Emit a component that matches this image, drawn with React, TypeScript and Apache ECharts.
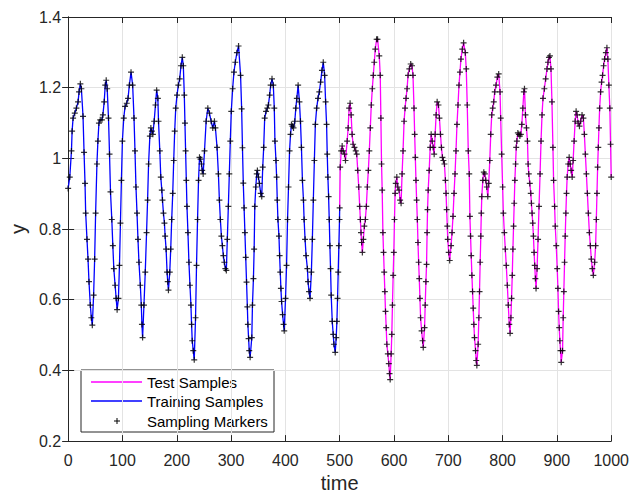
import React, { useEffect, useRef } from "react";
import * as echarts from "echarts";

const trainT = [
  0, 3.0, 6.1, 7.3, 9.1, 12.2, 15.2, 18.3, 20.1, 22.5, 24.4, 27.4, 29.3, 31.1, 32.3, 34.7, 36.6, 38.4, 40.8, 42.7,
  44.5, 46.9, 48.8, 50.6, 53.0, 54.8, 56.7, 59.1, 62.2, 64.0, 66.4, 68.3, 70.1, 71.9, 74.3, 76.2, 78.0, 80.4, 82.3, 84.1,
  86.5, 88.4, 90.2, 92.6, 94.5, 96.3, 98.1, 99.9, 102.4, 104.8, 107.9, 110.3, 112.7, 115.8, 118.8, 121.3, 123.1, 124.9, 126.8, 128.6,
  130.4, 132.9, 134.7, 135.9, 137.1, 139.6, 142.0, 144.4, 146.3, 148.1, 150.5, 152.3, 154.2, 156.0, 158.4, 160.8, 163.0, 165.2, 166.4, 168.8,
  170.6, 172.5, 173.7, 175.5, 177.3, 178.6, 180.4, 182.2, 183.4, 184.7, 187.1, 188.9, 190.7, 192.6, 194.4, 196.2, 198.1, 200.5, 202.9, 205.4,
  207.8, 210.2, 212.1, 213.9, 215.1, 216.3, 217.6, 218.8, 220.6, 222.4, 224.3, 226.1, 227.3, 228.5, 230.4, 232.2, 234.6, 236.4, 238.3, 240.1,
  241.9, 243.8, 245.6, 246.8, 248.6, 251.1, 254.1, 257.2, 260.2, 263.3, 266.3, 269.4, 271.2, 274.2, 276.7, 278.5, 280.3, 282.2, 284.0, 285.8,
  287.6, 289.5, 291.3, 293.1, 295.0, 296.8, 298.6, 300.4, 302.9, 305.3, 307.8, 310.8, 313.8, 317.5, 319.5, 321.0, 322.5, 324.0, 325.5, 327.0,
  328.5, 330.0, 331.0, 332.3, 333.5, 335.1, 338.2, 339.4, 341.2, 342.5, 343.7, 345.5, 347.3, 348.5, 350.4, 352.2, 354.6, 356.5, 358.3, 360.1,
  361.9, 364.4, 366.8, 368.7, 371.1, 372.9, 375.4, 377.8, 379.6, 380.8, 382.7, 383.9, 385.1, 386.3, 388.2, 389.4, 390.6, 391.8, 393.0, 394.9,
  396.7, 397.9, 400.3, 402.2, 404.0, 405.8, 407.7, 409.5, 411.3, 413.1, 415.0, 417.4, 419.2, 421.1, 423.5, 425.9, 427.8, 429.6, 431.4, 433.3,
  434.5, 436.3, 438.1, 440.6, 441.8, 443.6, 445.4, 447.9, 449.7, 451.5, 453.4, 455.2, 457.6, 460.1, 462.5, 464.9, 467.4, 469.8, 472.3, 474.1,
  475.9, 477.1, 478.3, 479.6, 480.8, 482.0, 483.2, 484.4, 486.3, 488.1, 489.4, 491.8, 493.6, 494.9, 496.1, 497.3, 498.5, 499.7, 500,
];
const trainY = [
  0.915, 0.947, 1.021, 1.077, 1.114, 1.128, 1.142, 1.160, 1.188, 1.211, 1.197, 1.119, 1.017, 0.929, 0.845, 0.771, 0.715, 0.651, 0.585, 0.549,
  0.528, 0.613, 0.715, 0.845, 0.984, 1.049, 1.100, 1.109, 1.109, 1.123, 1.160, 1.207, 1.221, 1.197, 1.114, 1.012, 0.905, 0.827, 0.753, 0.688,
  0.641, 0.604, 0.572, 0.604, 0.697, 0.817, 0.938, 1.049, 1.114, 1.147, 1.156, 1.170, 1.207, 1.244, 1.207, 1.114, 1.021, 0.919, 0.845, 0.771,
  0.706, 0.641, 0.585, 0.530, 0.493, 0.585, 0.678, 0.790, 0.882, 0.984, 1.063, 1.086, 1.077, 1.068, 1.105, 1.151, 1.193, 1.170, 1.105, 1.021,
  0.947, 0.910, 0.882, 0.845, 0.817, 0.780, 0.743, 0.678, 0.651, 0.627, 0.678, 0.743, 0.827, 0.901, 0.994, 1.077, 1.142, 1.179, 1.207, 1.225,
  1.262, 1.286, 1.262, 1.179, 1.100, 1.021, 0.938, 0.864, 0.790, 0.706, 0.641, 0.585, 0.530, 0.484, 0.456, 0.430, 0.549, 0.697, 0.827, 0.938,
  1.003, 0.998, 0.984, 0.966, 0.956, 1.021, 1.105, 1.142, 1.128, 1.105, 1.086, 1.105, 1.086, 1.031, 0.956, 0.882, 0.827, 0.780, 0.753, 0.725,
  0.706, 0.688, 0.683, 0.771, 0.864, 0.956, 1.049, 1.133, 1.197, 1.244, 1.272, 1.299, 1.318, 1.235, 1.140, 1.030, 0.930, 0.860, 0.790, 0.720,
  0.650, 0.580, 0.530, 0.490, 0.456, 0.437, 0.493, 0.585, 0.660, 0.743, 0.864, 0.919, 0.956, 0.966, 0.947, 0.929, 0.901, 0.892, 0.975, 1.031,
  1.114, 1.133, 1.142, 1.151, 1.179, 1.207, 1.225, 1.207, 1.142, 1.049, 0.994, 0.947, 0.882, 0.827, 0.780, 0.725, 0.678, 0.632, 0.595, 0.558,
  0.530, 0.512, 0.604, 0.697, 0.827, 0.919, 1.021, 1.068, 1.096, 1.091, 1.086, 1.105, 1.142, 1.170, 1.207, 1.160, 1.105, 1.031, 0.938, 0.882,
  0.827, 0.771, 0.725, 0.688, 0.651, 0.623, 0.604, 0.678, 0.771, 0.882, 0.994, 1.096, 1.142, 1.170, 1.188, 1.216, 1.249, 1.272, 1.235, 1.160,
  1.096, 1.012, 0.947, 0.892, 0.827, 0.753, 0.688, 0.613, 0.539, 0.502, 0.474, 0.451, 0.493, 0.539, 0.604, 0.678, 0.753, 0.827, 0.860,
];

const testT = [
  500, 501.0, 502.8, 504.6, 506.4, 508.9, 510.7, 513.8, 515.6, 517.4, 519.2, 521.1, 522.9, 524.7, 527.2, 529.6, 531.4, 533.3, 535.1, 536.9,
  538.1, 539.3, 540.4, 541.8, 543.6, 545.4, 547.3, 549.1, 550.9, 552.8, 554.6, 556.4, 558.2, 560.1, 561.9, 563.7, 565.6, 568.0, 569.8, 572.9,
  574.7, 575.9, 577.1, 578.3, 579.6, 580.8, 582.0, 583.2, 584.4, 585.7, 586.9, 588.7, 590.5, 591.8, 593.0, 594.8, 596.0, 597.2, 598.5, 599.7,
  600.9, 602.1, 603.3, 605.2, 607.0, 609.4, 611.3, 613.1, 614.9, 616.7, 618.6, 620.4, 622.2, 624.1, 625.9, 628.3, 630.8, 633.2, 635.0, 636.9,
  638.1, 639.3, 640.5, 641.7, 643.0, 644.2, 645.4, 646.6, 647.8, 649.0, 650.9, 652.7, 653.9, 656.3, 657.5, 658.8, 660.0, 661.0, 661.8, 663.0,
  664.8, 666.7, 668.5, 670.3, 672.2, 674.0, 675.8, 677.6, 679.5, 681.9, 683.7, 685.6, 687.4, 689.2, 691.0, 692.9, 694.7, 695.9, 697.0, 698.2,
  699.0, 700.8, 702.6, 705.1, 706.9, 708.7, 710.6, 712.4, 714.2, 716.0, 717.9, 719.7, 721.5, 723.3, 725.8, 728.2, 731.3, 733.1, 734.9, 736.8,
  738.6, 739.8, 741.0, 742.2, 743.5, 744.7, 745.9, 747.1, 748.3, 750.2, 751.4, 752.6, 755.0, 756.3, 757.5, 758.7, 759.9, 760.8, 761.7, 763.6,
  765.4, 767.2, 769.1, 770.9, 772.7, 774.5, 776.4, 778.2, 780.0, 781.8, 783.7, 785.5, 787.9, 790.4, 792.8, 795.3, 796.5, 798.3, 800.1, 801.4,
  803.2, 805.0, 806.8, 808.7, 810.5, 812.3, 813.8, 815.3, 816.5, 817.8, 819.0, 820.2, 821.4, 822.6, 823.9, 825.1, 826.3, 828.1, 830.0, 831.8,
  833.6, 835.4, 837.3, 839.1, 840.3, 842.1, 844.0, 845.8, 847.0, 848.2, 850.1, 851.9, 853.1, 854.3, 855.5, 856.8, 858.0, 859.2, 860.4, 861.6,
  863.5, 865.3, 867.1, 869.0, 870.8, 872.6, 874.4, 876.9, 879.3, 881.8, 883.6, 885.4, 887.2, 889.1, 890.9, 892.7, 893.9, 895.8, 897.0, 898.8,
  900.6, 901.9, 903.1, 904.3, 905.5, 906.7, 908.0, 910.4, 911.6, 912.8, 914.1, 915.3, 916.5, 917.7, 918.9, 920.8, 922.6, 924.4, 926.2, 928.1,
  929.9, 931.7, 933.6, 935.4, 937.2, 939.0, 941.5, 943.9, 946.3, 948.8, 950.6, 952.4, 954.3, 956.1, 957.9, 959.8, 961.6, 963.4, 965.2, 967.1,
  969.5, 971.3, 972.6, 973.8, 975.0, 976.2, 977.4, 978.7, 980.5, 982.3, 984.1, 986.0, 987.8, 990.2, 992.1, 993.9, 995.7, 997.5, 998.8, 1000,
];
const testY = [
  0.860, 0.975, 1.021, 1.035, 1.021, 1.012, 0.994, 1.049, 1.086, 1.142, 1.156, 1.123, 1.068, 1.040, 1.031, 1.021, 1.012, 0.966, 0.919, 0.864,
  0.827, 0.790, 0.762, 0.734, 0.771, 0.808, 0.827, 0.864, 0.919, 0.966, 1.021, 1.086, 1.151, 1.197, 1.235, 1.272, 1.309, 1.337, 1.337, 1.290,
  1.235, 1.114, 0.984, 0.910, 0.790, 0.734, 0.678, 0.623, 0.567, 0.521, 0.474, 0.447, 0.419, 0.391, 0.374, 0.447, 0.502, 0.585, 0.669, 0.734,
  0.827, 0.901, 0.929, 0.947, 0.919, 0.910, 0.882, 0.873, 0.956, 1.021, 1.105, 1.142, 1.170, 1.197, 1.235, 1.253, 1.267, 1.262, 1.235, 1.142,
  1.068, 1.003, 0.938, 0.882, 0.827, 0.762, 0.706, 0.660, 0.604, 0.549, 0.512, 0.484, 0.465, 0.521, 0.585, 0.651, 0.700, 0.790, 0.855, 0.910,
  0.966, 1.031, 1.068, 1.049, 1.031, 1.012, 1.068, 1.123, 1.160, 1.151, 1.114, 1.068, 1.031, 1.003, 0.994, 0.984, 0.938, 0.901, 0.855, 0.808,
  0.771, 0.734, 0.711, 0.753, 0.790, 0.836, 0.901, 0.956, 1.021, 1.096, 1.151, 1.207, 1.244, 1.281, 1.309, 1.327, 1.299, 1.253, 1.151, 1.021,
  0.956, 0.836, 0.780, 0.725, 0.669, 0.623, 0.576, 0.530, 0.493, 0.456, 0.428, 0.414, 0.474, 0.549, 0.623, 0.706, 0.780, 0.845, 0.892, 0.938,
  0.961, 0.956, 0.938, 0.919, 0.892, 0.929, 0.994, 1.068, 1.123, 1.142, 1.160, 1.188, 1.207, 1.230, 1.239, 1.188, 1.114, 1.012, 0.919, 0.845,
  0.790, 0.743, 0.697, 0.641, 0.585, 0.530, 0.505, 0.549, 0.604, 0.669, 0.743, 0.808, 0.873, 0.938, 0.984, 1.031, 1.049, 1.072, 1.068, 1.063,
  1.068, 1.096, 1.142, 1.188, 1.197, 1.123, 1.086, 1.049, 0.984, 0.956, 0.929, 0.901, 0.873, 0.845, 0.817, 0.780, 0.734, 0.697, 0.660, 0.632,
  0.688, 0.771, 0.864, 0.956, 1.049, 1.123, 1.170, 1.197, 1.225, 1.253, 1.272, 1.286, 1.290, 1.253, 1.160, 1.031, 0.938, 0.864, 0.808, 0.753,
  0.688, 0.632, 0.567, 0.521, 0.484, 0.456, 0.423, 0.456, 0.549, 0.623, 0.706, 0.780, 0.845, 0.901, 0.947, 0.984, 1.003, 0.984, 0.966, 0.947,
  0.994, 1.049, 1.105, 1.133, 1.123, 1.100, 1.091, 1.105, 1.123, 1.114, 1.068, 1.012, 0.956, 0.901, 0.845, 0.790, 0.753, 0.715, 0.688, 0.669,
  0.706, 0.753, 0.827, 0.901, 0.975, 1.031, 1.086, 1.142, 1.188, 1.216, 1.235, 1.262, 1.281, 1.299, 1.313, 1.281, 1.207, 1.142, 1.040, 0.947,
];

const legendLabels = ["Test Samples", "Training Samples", "Sampling Markers"];
const xLabel = "time";
const yLabel = "y";

const AX = "#262626";
const FONT = '"Liberation Sans", Arial, Helvetica, sans-serif';

export default function App() {
  const ref = useRef<HTMLDivElement>(null);
  useEffect(() => {
    if (!ref.current) return;
    const chart = echarts.init(ref.current, undefined, { renderer: "svg" });
    const train = trainT.map((t, i) => [t, trainY[i]]);
    const test = testT.map((t, i) => [t, testY[i]]);
    const markers = train.concat(test.slice(1));
    const cross = "path://M4,0H6V4H10V6H6V10H4V6H0V4H4Z";
    const axisCommon = {
      axisLine: { show: true, lineStyle: { color: AX, width: 1 } },
      axisTick: { show: true, inside: true, length: 6, lineStyle: { color: AX, width: 1 } },
    };
    chart.setOption({
      animation: false,
      backgroundColor: "#ffffff",
      grid: { left: 65, right: 20, top: 17, bottom: 49, containLabel: false },
      xAxis: [
        {
          type: "value", min: 0, max: 1000, interval: 100, position: "bottom",
          ...axisCommon,
          axisLabel: { color: AX, fontSize: 16, fontFamily: FONT, margin: 11, formatter: (v: number) => String(v) },
          splitLine: { show: true, lineStyle: { color: "#e3e3e3", width: 1 } },
          name: xLabel, nameLocation: "middle", nameGap: 31,
          nameTextStyle: { color: AX, fontSize: 20, fontFamily: FONT },
        },
        {
          type: "value", min: 0, max: 1000, interval: 100, position: "top",
          ...axisCommon, axisLabel: { show: false }, splitLine: { show: false },
        },
      ],
      yAxis: [
        {
          type: "value", min: 0.2, max: 1.4, interval: 0.2, position: "left",
          ...axisCommon,
          axisLabel: {
            color: AX, fontSize: 16, fontFamily: FONT, margin: 7,
            formatter: (v: number) => String(parseFloat(v.toFixed(1))),
          },
          splitLine: { show: true, lineStyle: { color: "#e3e3e3", width: 1 } },
          name: yLabel, nameLocation: "middle", nameGap: 38, nameRotate: 90,
          nameTextStyle: { color: AX, fontSize: 20, fontFamily: FONT },
        },
        {
          type: "value", min: 0.2, max: 1.4, interval: 0.2, position: "right",
          ...axisCommon, axisLabel: { show: false }, splitLine: { show: false },
        },
      ],
      series: [
        {
          name: legendLabels[1], type: "line", data: train, symbol: "none",
          lineStyle: { color: "#0000ff", width: 1.3 }, z: 2,
        },
        {
          name: legendLabels[0], type: "line", data: test, symbol: "none",
          lineStyle: { color: "#ff00ff", width: 1.3 }, z: 2,
        },
        {
          name: legendLabels[2], type: "scatter", data: markers, symbol: cross, symbolSize: 6,
          itemStyle: { color: "#000000" }, z: 3,
        },
      ],
      graphic: [
        {
          type: "group", z: 100, children: [
            { type: "rect", shape: { x: 81, y: 370, width: 193, height: 62 }, style: { fill: "#ffffff", stroke: AX, lineWidth: 1 } },
            { type: "line", shape: { x1: 91, y1: 382, x2: 142, y2: 382 }, style: { stroke: "#ff00ff", lineWidth: 1.3 } },
            { type: "line", shape: { x1: 91, y1: 401, x2: 142, y2: 401 }, style: { stroke: "#0000ff", lineWidth: 1.3 } },
            { type: "line", shape: { x1: 114, y1: 421, x2: 120, y2: 421 }, style: { stroke: "#000000", lineWidth: 1 } },
            { type: "line", shape: { x1: 117, y1: 418, x2: 117, y2: 424 }, style: { stroke: "#000000", lineWidth: 1 } },
            { type: "text", x: 147, y: 382, style: { text: legendLabels[0], fontSize: 15, fontFamily: FONT, fill: "#000", verticalAlign: "middle" } },
            { type: "text", x: 147, y: 401, style: { text: legendLabels[1], fontSize: 15, fontFamily: FONT, fill: "#000", verticalAlign: "middle" } },
            { type: "text", x: 147, y: 421, style: { text: legendLabels[2], fontSize: 15, fontFamily: FONT, fill: "#000", verticalAlign: "middle" } },
          ],
        },
      ],
    });
    return () => chart.dispose();
  }, []);
  return <div ref={ref} style={{ position: "fixed", left: 0, top: 0, width: 632, height: 498 }} />;
}
